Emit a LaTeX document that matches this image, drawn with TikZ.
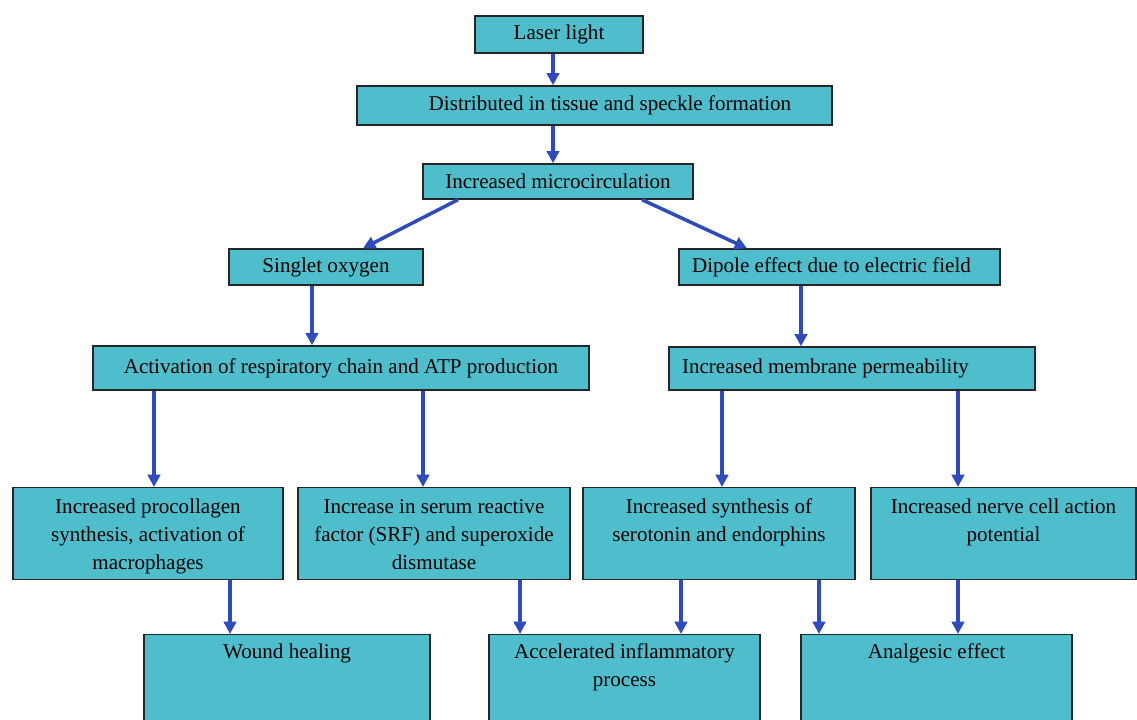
\documentclass[tikz,border=0pt]{standalone}
\usepackage{fontspec}
\setmainfont{Liberation Serif}
\usetikzlibrary{arrows.meta}

\definecolor{boxcyan}{RGB}{78,190,205}
\definecolor{arrowblue}{RGB}{45,75,190}

\tikzset{
    box/.style={draw=black!85, fill=boxcyan, line width=0.8pt, inner sep=0pt,
        font=\fontsize{12}{15.9}\selectfont},
    leftbox/.style={box, align=flush left, inner xsep=0.26cm},
    tallbox/.style={box, anchor=north, align=flush center, inner ysep=4pt,
        text height=10.7pt, text depth=33.5pt},
    lowbox/.style={box, anchor=north, align=flush center, inner ysep=4pt,
        text height=9.6pt, text depth=80pt},
    arr/.style={draw=arrowblue, line width=2pt,
        -{Triangle[length=7pt,width=7pt]}, arrowblue}
}

\begin{document}
\begin{tikzpicture}[x=0.02cm, y=-0.02cm]
    \useasboundingbox (0,0) rectangle (1137,720);
    \clip (0,0) rectangle (1137,720);

    % top chain
    \node[box, minimum width=3.36cm, minimum height=0.74cm] (laser) at (559,34.5)
        {\raisebox{-2pt}{Laser light}};
    \node[box, minimum width=9.5cm, minimum height=0.78cm] (dist) at (594.5,105.5)
        {\hspace*{22\pgflinewidth}Distributed in tissue and speckle formation};
    \node[box, minimum width=5.4cm, minimum height=0.7cm] (micro) at (558,181.5)
        {Increased microcirculation};

    % two branches
    \node[box, minimum width=3.88cm, minimum height=0.72cm] (singlet) at (326,267) {Singlet oxygen};
    \node[leftbox, text width=5.9cm, minimum height=0.72cm] (dipole) at (839.5,267)
        {Dipole effect due to electric field};
    \node[box, minimum width=9.92cm, minimum height=0.88cm] (atp) at (341,368)
        {Activation of respiratory chain and ATP production};
    \node[leftbox, text width=6.8cm, minimum height=0.86cm] (membrane) at (852,368.5)
        {Increased membrane permeability};

    % fourth row
    \node[tallbox, text width=5.4cm] (procoll) at (148,487)
        {Increased procollagen\\synthesis, activation of\\macrophages};
    \node[tallbox, text width=5.44cm] (serum) at (434,487)
        {Increase in serum reactive\\factor (SRF) and superoxide\\dismutase};
    \node[tallbox, text width=5.44cm] (serotonin) at (719,487)
        {Increased synthesis of\\serotonin and endorphins};
    \node[tallbox, text width=5.3cm] (nerve) at (1003.5,487)
        {Increased nerve cell action\\potential};

    % effects
    \node[lowbox, text width=5.72cm] (wound) at (287,634) {Wound healing};
    \node[lowbox, text width=5.42cm] (inflam) at (624.5,634) {Accelerated inflammatory\\process};
    \node[lowbox, text width=5.42cm] (analgesic) at (936.5,634) {Analgesic effect};

    % arrows
    \draw[arr] (laser.south -| 553,0) -- (dist.north -| 553,0);
    \draw[arr] (dist.south -| 553,0) -- (micro.north -| 553,0);
    \draw[arr] (micro.south -| 458,0) -- (singlet.north -| 363,0);
    \draw[arr] (micro.south -| 642,0) -- (dipole.north -| 747,0);
    \draw[arr] (singlet.south -| 312,0) -- (atp.north -| 312,0);
    \draw[arr] (dipole.south -| 801,0) -- (membrane.north -| 801,0);
    \draw[arr] (atp.south -| 154,0) -- (procoll.north -| 154,0);
    \draw[arr] (atp.south -| 423,0) -- (serum.north -| 423,0);
    \draw[arr] (membrane.south -| 722,0) -- (serotonin.north -| 722,0);
    \draw[arr] (membrane.south -| 958,0) -- (nerve.north -| 958,0);
    \draw[arr] (procoll.south -| 230,0) -- (wound.north -| 230,0);
    \draw[arr] (serum.south -| 520,0) -- (inflam.north -| 520,0);
    \draw[arr] (serotonin.south -| 681,0) -- (inflam.north -| 681,0);
    \draw[arr] (serotonin.south -| 819,0) -- (analgesic.north -| 819,0);
    \draw[arr] (nerve.south -| 958,0) -- (analgesic.north -| 958,0);
\end{tikzpicture}
\end{document}
